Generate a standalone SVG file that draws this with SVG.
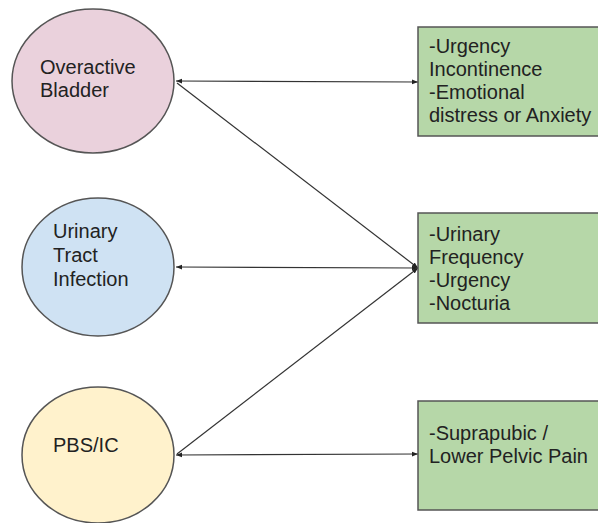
<svg xmlns="http://www.w3.org/2000/svg" width="598" height="523" viewBox="0 0 598 523">
<defs>
<marker id="ah" viewBox="0 0 10 10" refX="10" refY="5" markerWidth="6" markerHeight="6" orient="auto-start-reverse" markerUnits="userSpaceOnUse">
<path d="M0,1 L10,5 L0,9 Z" fill="#222"/>
</marker>
<style>
.n{stroke:#555;stroke-width:1.5}
.t{font-family:"Liberation Sans",Arial,sans-serif;font-size:20px;fill:#222}
.c{stroke:#333;stroke-width:1.2;fill:none}
</style>
</defs>
<rect width="598" height="523" fill="#fff"/>
<g id="connectors">
<line class="c" x1="176" y1="81" x2="418" y2="82" marker-start="url(#ah)" marker-end="url(#ah)"/>
<line class="c" x1="176" y1="267" x2="418" y2="268" marker-start="url(#ah)" marker-end="url(#ah)"/>
<line class="c" x1="176" y1="455" x2="418" y2="454" marker-start="url(#ah)" marker-end="url(#ah)"/>
<line class="c" x1="177" y1="83" x2="418" y2="268" marker-end="url(#ah)"/>
<line class="c" x1="177" y1="454" x2="418" y2="268" marker-end="url(#ah)"/>
</g>
<g id="oab">
<ellipse class="n" cx="93" cy="81" rx="81" ry="72" fill="#ead1dc"/>
<text class="t" x="40" y="74">Overactive</text>
<text class="t" x="40" y="97">Bladder</text>
</g>
<g id="uti">
<ellipse class="n" cx="98" cy="267" rx="76" ry="69" fill="#cfe2f3"/>
<text class="t" x="53" y="238">Urinary</text>
<text class="t" x="53" y="262">Tract</text>
<text class="t" x="53" y="286">Infection</text>
</g>
<g id="pbs">
<ellipse class="n" cx="98" cy="455" rx="76" ry="68" fill="#fff2cc"/>
<text class="t" x="53" y="452">PBS/IC</text>
</g>
<g id="box1">
<rect class="n" x="418" y="27" width="190" height="109" fill="#b6d7a8"/>
<text class="t" x="429" y="53">-Urgency</text>
<text class="t" x="429" y="76">Incontinence</text>
<text class="t" x="429" y="99">-Emotional</text>
<text class="t" x="429" y="122">distress or Anxiety</text>
</g>
<g id="box2">
<rect class="n" x="418" y="213" width="190" height="110" fill="#b6d7a8"/>
<text class="t" x="429" y="241">-Urinary</text>
<text class="t" x="429" y="264">Frequency</text>
<text class="t" x="429" y="287">-Urgency</text>
<text class="t" x="429" y="310">-Nocturia</text>
</g>
<g id="box3">
<rect class="n" x="418" y="401" width="190" height="109" fill="#b6d7a8"/>
<text class="t" x="429" y="440">-Suprapubic /</text>
<text class="t" x="429" y="463">Lower Pelvic Pain</text>
</g>
</svg>
